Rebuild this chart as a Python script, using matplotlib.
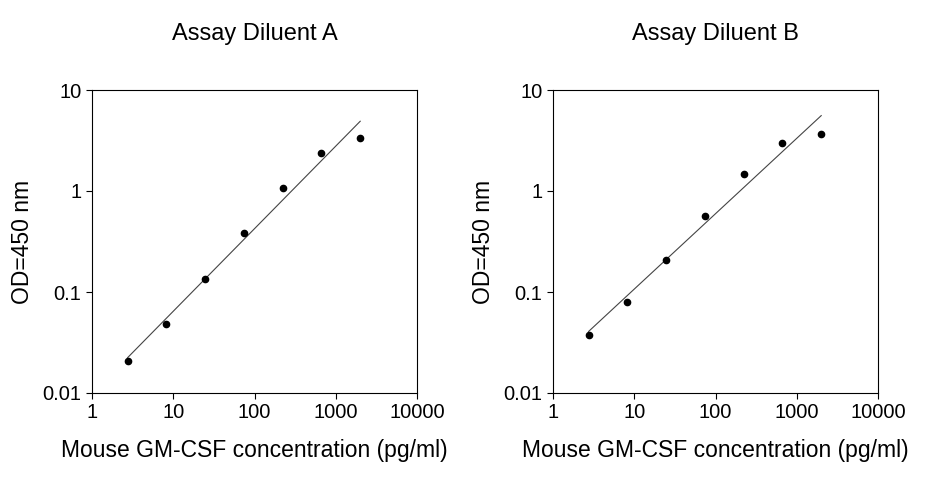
import numpy as np
import matplotlib
matplotlib.use('Agg')
import matplotlib.pyplot as plt

plt.rcParams['font.family'] = ['Liberation Sans', 'DejaVu Sans']

conc = [2.74, 8.23, 24.7, 74.1, 222, 667, 2000]
od_a = [0.0207, 0.048, 0.135, 0.38, 1.07, 2.4, 3.35]
od_b = [0.0375, 0.079, 0.207, 0.565, 1.47, 2.98, 3.66]
titles = ["Assay Diluent A", "Assay Diluent B"]
xlabel = "Mouse GM-CSF concentration (pg/ml)"
ylabel = "OD=450 nm"

fig = plt.figure(figsize=(9.26, 4.8), dpi=100)
W, H = 926, 480
boxes = [(92, 90, 325, 303), (553, 90, 325, 303)]

for (x0, y0, w, h), od, title in zip(boxes, [od_a, od_b], titles):
    ax = fig.add_axes([x0 / W, 1 - (y0 + h) / H, w / W, h / H])
    ax.set_xscale('log')
    ax.set_yscale('log')
    ax.set_xlim(1, 10000)
    ax.set_ylim(0.01, 10)
    # log-log linear fit
    k, b = np.polyfit(np.log10(conc), np.log10(od), 1)
    xs = np.array([conc[0], conc[-1]])
    ax.plot(xs, 10 ** (k * np.log10(xs) + b), color='#444444', lw=0.8)
    ax.plot(conc, od, 'o', color='black', ms=4.5)
    ax.set_xticks([1, 10, 100, 1000, 10000])
    ax.set_xticklabels(['1', '10', '100', '1000', '10000'])
    ax.set_yticks([0.01, 0.1, 1, 10])
    ax.set_yticklabels(['0.01', '0.1', '1', '10'])
    ax.minorticks_off()
    ax.tick_params(labelsize=14.5, length=4, direction='out')
    ax.set_title(title, fontsize=17, pad=36)
    ax.set_xlabel(xlabel, fontsize=16.5, labelpad=12)
    ax.set_ylabel(ylabel, fontsize=16.5, labelpad=6)

fig.savefig('out.png', dpi=100)
